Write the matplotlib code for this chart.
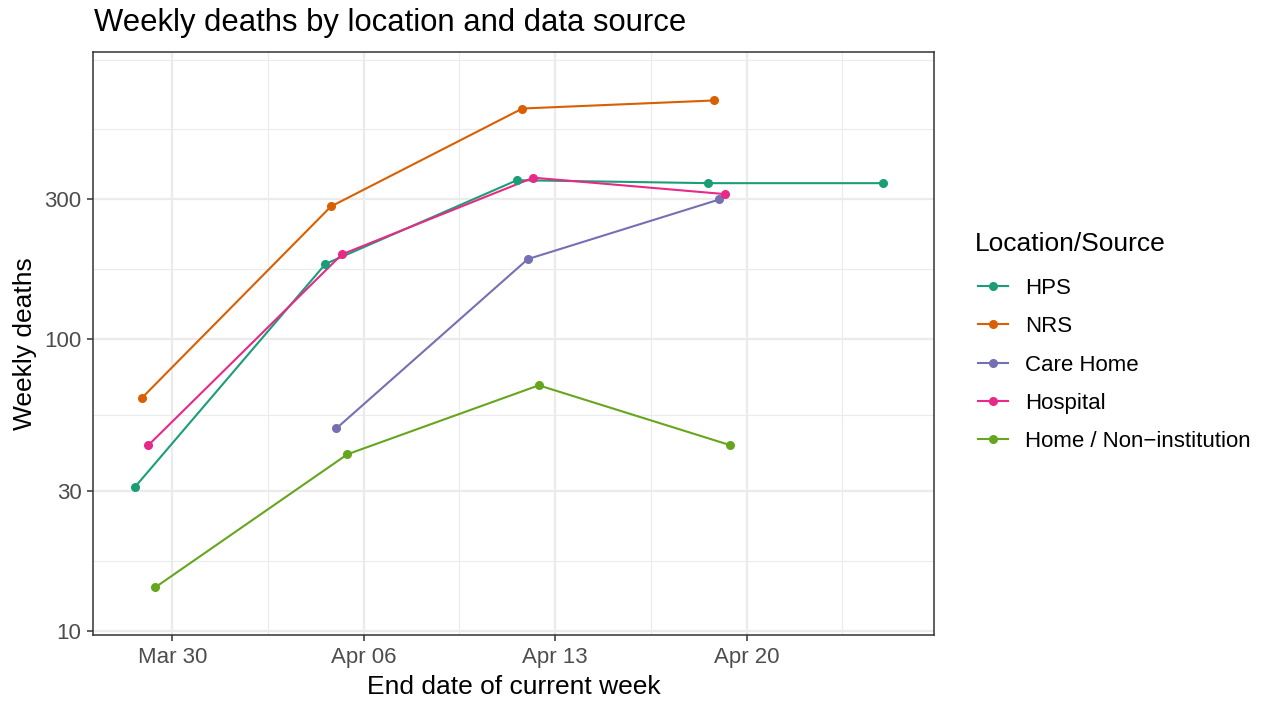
import numpy as np
import matplotlib
matplotlib.use('Agg')
import matplotlib.pyplot as plt
import matplotlib.dates as mdates
import matplotlib.ticker as mticker

plt.rcParams['font.family'] = ['Liberation Sans', 'DejaVu Sans']

# Data
week_end = ['2020-03-29', '2020-04-05', '2020-04-12', '2020-04-19', '2020-04-25']
series = ['HPS', 'NRS', 'Care Home', 'Hospital', 'Home / Non\u2212institution']
hps = [31, 180, 348, 340, 340]
nrs = [62.5, 283, 612, 652, np.nan]
care_home = [np.nan, 49.3, 187, 299, np.nan]
hospital = [43.2, 194, 355, 312, np.nan]
home = [14.1, 40.2, 69.2, 43.2, np.nan]
colors = ['#1B9E77', '#D95F02', '#7570B3', '#E7298A', '#66A61E']

x_breaks = ['2020-03-30', '2020-04-06', '2020-04-13', '2020-04-20']
y_breaks = [10, 30, 100, 300]

values = np.array([hps, nrs, care_home, hospital, home], dtype=float)
xnum = mdates.date2num(np.array(week_end, dtype='datetime64[D]'))

# dodge the points like ggplot's position_dodge(width = 1 day)
xpos = np.full(values.shape, np.nan)
for j in range(values.shape[1]):
    present = np.where(~np.isnan(values[:, j]))[0]
    n = len(present)
    for k, i in enumerate(present):
        xpos[i, j] = xnum[j] + (k - (n - 1) / 2) / n

fig = plt.figure(figsize=(12.63, 7.03), dpi=100)
ax = fig.add_axes([93 / 1263, 1 - 635 / 703, 841 / 1263, 583 / 703])

for i, name in enumerate(series):
    m = ~np.isnan(values[i])
    ax.plot(xpos[i][m], values[i][m], color=colors[i], lw=1.5, zorder=3)
for i, name in enumerate(series):
    m = ~np.isnan(values[i])
    ax.plot(xpos[i][m], values[i][m], color=colors[i], lw=1.5, marker='o',
            ms=5.5, ls='none', zorder=4)

ax.set_yscale('log')
ax.set_ylim(9.69, 955)
x0 = mdates.date2num(np.datetime64('2020-03-27'))
ax.set_xlim(x0 + 0.1, x0 + 30.85)

# major / minor breaks
xb = mdates.date2num(np.array(x_breaks, dtype='datetime64[D]'))
ax.xaxis.set_major_locator(mticker.FixedLocator(xb))
ax.xaxis.set_minor_locator(mticker.FixedLocator(np.append(xb - 3.5, xb[-1] + 3.5)))
ax.xaxis.set_major_formatter(mdates.DateFormatter('%b %d'))

lb = np.log10(y_breaks)
ext = np.append(lb, 2 * lb[-1] - lb[-2])
ymin = np.append((ext[:-1] + ext[1:]) / 2, ext[-1])
ax.yaxis.set_major_locator(mticker.FixedLocator(y_breaks))
ax.yaxis.set_major_formatter(mticker.FixedFormatter([str(v) for v in y_breaks]))
ax.yaxis.set_minor_locator(mticker.FixedLocator(10 ** ymin))
ax.yaxis.set_minor_formatter(mticker.NullFormatter())

ax.grid(True, which='major', color='#EBEBEB', lw=1.6, zorder=0)
ax.grid(True, which='minor', color='#EBEBEB', lw=0.8, zorder=0)
ax.set_axisbelow(True)
ax.tick_params(which='major', length=4.3, width=1.1, color='#333333',
               labelsize=16, labelcolor='#4D4D4D', pad=4)
ax.tick_params(which='minor', length=0)
for s in ax.spines.values():
    s.set_color('#333333')
    s.set_linewidth(1.1)

ax.set_xlabel('End date of current week', fontsize=19)
ax.set_ylabel('Weekly deaths', fontsize=19)
ax.xaxis.set_label_coords(0.5, -0.068)
ax.yaxis.set_label_coords(-0.067, 0.5)

fig.text(94 / 1263, 1 - 22.5 / 703, 'Weekly deaths by location and data source',
         fontsize=22.3, va='center', ha='left')

# legend
fig.text(975 / 1263, 1 - 244 / 703, 'Location/Source', fontsize=19,
         va='center', ha='left')
handles = [plt.Line2D([], [], color=c, lw=1.5, marker='o', ms=5.5) for c in colors]
leg = fig.legend(handles, series, loc='upper left', borderaxespad=0,
                 bbox_to_anchor=(969 / 1263, 1 - 269 / 703), frameon=False,
                 fontsize=16, handlelength=1.35, handletextpad=0.77,
                 labelspacing=0.78)

fig.savefig('out.png', dpi=100)
